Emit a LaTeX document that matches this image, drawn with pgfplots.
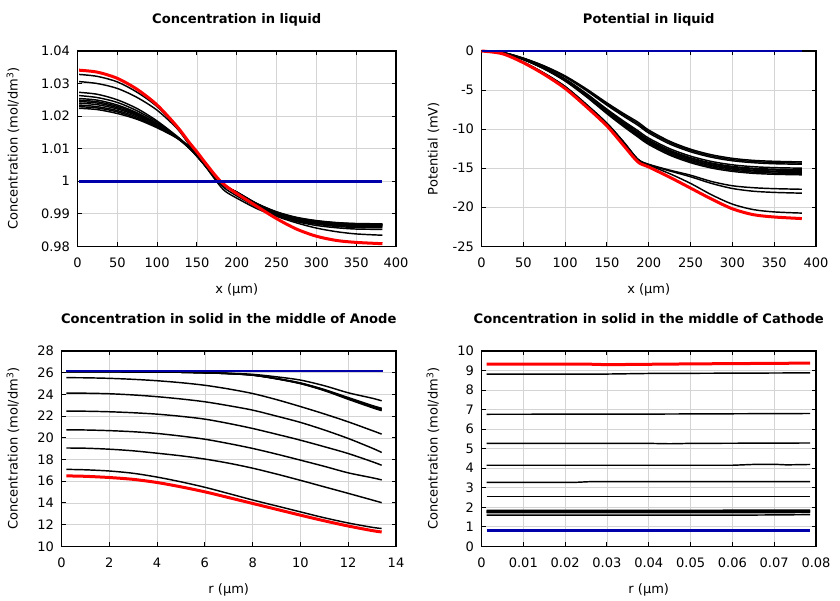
\documentclass[border=0pt]{standalone}
\usepackage{fontspec}
\setmainfont{DejaVu Sans}
\usepackage{pgfplots}
\pgfplotsset{compat=1.18}
\definecolor{navyb}{RGB}{0,0,170}
\pgfplotsset{
  bk/.style={black, line width=1.45pt, no markers, smooth},
  bks/.style={black, line width=1.45pt, no markers},
  rd/.style={red, line width=3pt, no markers, smooth},
  bl/.style={navyb, line width=2.6pt, no markers},
  common/.style={
    scale only axis, height=195.3pt, anchor=south west, clip=false,
    grid=major, major grid style={color=black!17, line width=0.6pt},
    axis line style={line width=1.2pt},
    tick style={black, line width=0.9pt}, major tick length=4pt,
    tick label style={font=\fontsize{13}{15}\selectfont},
    label style={font=\fontsize{13}{15}\selectfont},
    title style={font=\bfseries\fontsize{13.1}{15}\selectfont, at={(axis description cs:0.5,1.1106)}, anchor=base},
    xlabel style={at={(axis description cs:0.5,-0.2407)}, anchor=base},
    /pgf/number format/assume math mode=true,
    /pgf/number format/fixed, /pgf/number format/precision=2,
    scaled ticks=false,
    xticklabel style={yshift=-7.7pt},
    yticklabel style={xshift=-4pt},
  }
}
\begin{document}
\begin{tikzpicture}
\path[use as bounding box] (0,0) rectangle (840pt,600pt);

% ---------------- Concentration in liquid
\begin{axis}[common, at={(77.5pt,353.7pt)}, width=318.5pt,
  title={Concentration in liquid},
  xlabel={x (µm)}, ylabel={Concentration (mol/dm\textsuperscript{3})},
  ylabel style={at={(axis description cs:-0.188,0.5)}, anchor=base},
  xmin=0, xmax=400, ymin=0.98, ymax=1.04,
  xtick={0,50,100,150,200,250,300,350,400},
  ytick={0.98,0.99,1,1.01,1.02,1.03,1.04}]
\addplot[bk] coordinates {(2,1.0328)(25,1.0322)(50,1.0305)(75,1.0273)(100,1.0229)(125,1.0165)(140,1.0115)(150,1.0082)(160,1.0048)(175,0.9998)(185,0.9970)(200,0.9948)(225,0.9916)(250,0.9892)(275,0.9872)(300,0.9856)(325,0.9845)(350,0.9838)(383,0.9834)};
\addplot[bk] coordinates {(2,1.0306)(25,1.0300)(50,1.0285)(75,1.0257)(100,1.0218)(125,1.0162)(140,1.0113)(150,1.0082)(160,1.0050)(175,1.0003)(185,0.9978)(200,0.9955)(225,0.9921)(250,0.9895)(275,0.9876)(300,0.9864)(325,0.9857)(350,0.9853)(383,0.9852)};
\addplot[bk] coordinates {(2,1.0273)(25,1.0267)(50,1.0250)(75,1.0223)(100,1.0185)(125,1.0138)(140,1.0106)(150,1.0082)(160,1.0053)(175,1.0010)(185,0.9988)(200,0.9964)(225,0.9926)(250,0.9898)(275,0.9878)(300,0.9868)(325,0.9861)(350,0.9858)(383,0.9857)};
\addplot[bk] coordinates {(2,1.0263)(25,1.0257)(50,1.0242)(75,1.0216)(100,1.0181)(125,1.0137)(140,1.0106)(150,1.0081)(160,1.0052)(175,1.0009)(185,0.9987)(200,0.9965)(225,0.9927)(250,0.9900)(275,0.9881)(300,0.9870)(325,0.9864)(350,0.9861)(383,0.9860)};
\addplot[bk] coordinates {(2,1.0254)(25,1.0249)(50,1.0234)(75,1.0210)(100,1.0177)(125,1.0136)(140,1.0105)(150,1.0080)(160,1.0052)(175,1.0008)(185,0.9987)(200,0.9965)(225,0.9928)(250,0.9901)(275,0.9883)(300,0.9872)(325,0.9866)(350,0.9863)(383,0.9862)};
\addplot[bk] coordinates {(2,1.0249)(25,1.0244)(50,1.0230)(75,1.0207)(100,1.0175)(125,1.0135)(140,1.0104)(150,1.0079)(160,1.0051)(175,1.0008)(185,0.9986)(200,0.9966)(225,0.9929)(250,0.9902)(275,0.9884)(300,0.9874)(325,0.9868)(350,0.9865)(383,0.9864)};
\addplot[bk] coordinates {(2,1.0245)(25,1.0240)(50,1.0226)(75,1.0204)(100,1.0174)(125,1.0135)(140,1.0104)(150,1.0079)(160,1.0050)(175,1.0007)(185,0.9986)(200,0.9966)(225,0.9930)(250,0.9903)(275,0.9885)(300,0.9875)(325,0.9869)(350,0.9866)(383,0.9865)};
\addplot[bk] coordinates {(2,1.0240)(25,1.0235)(50,1.0222)(75,1.0201)(100,1.0171)(125,1.0134)(140,1.0103)(150,1.0078)(160,1.0050)(175,1.0006)(185,0.9985)(200,0.9966)(225,0.9930)(250,0.9904)(275,0.9886)(300,0.9876)(325,0.9870)(350,0.9867)(383,0.9866)};
\addplot[bk] coordinates {(2,1.0234)(25,1.0229)(50,1.0217)(75,1.0197)(100,1.0168)(125,1.0133)(140,1.0103)(150,1.0077)(160,1.0049)(175,1.0006)(185,0.9985)(200,0.9966)(225,0.9931)(250,0.9905)(275,0.9887)(300,0.9877)(325,0.9871)(350,0.9868)(383,0.9867)};
\addplot[bk] coordinates {(2,1.0229)(25,1.0225)(50,1.0213)(75,1.0193)(100,1.0167)(125,1.0133)(140,1.0102)(150,1.0077)(160,1.0048)(175,1.0005)(185,0.9984)(200,0.9966)(225,0.9931)(250,0.9905)(275,0.9888)(300,0.9878)(325,0.9872)(350,0.9869)(383,0.9868)};
\addplot[bk] coordinates {(2,1.0224)(25,1.0220)(50,1.0208)(75,1.0190)(100,1.0164)(125,1.0132)(140,1.0102)(150,1.0076)(160,1.0048)(175,1.0005)(185,0.9984)(200,0.9967)(225,0.9932)(250,0.9906)(275,0.9889)(300,0.9879)(325,0.9873)(350,0.9870)(383,0.9869)};
\addplot[rd] coordinates {(2,1.0341)(25,1.0335)(50,1.0316)(75,1.0282)(100,1.0234)(125,1.0168)(140,1.0120)(150,1.0090)(160,1.0058)(175,1.0012)(185,0.9988)(200,0.9962)(225,0.9923)(250,0.9885)(275,0.9853)(300,0.9831)(325,0.9818)(350,0.9812)(383,0.9808)};
\addplot[bl] coordinates {(2,1)(383,1)};
\end{axis}

% ---------------- Potential in liquid
\begin{axis}[common, at={(481.5pt,353.7pt)}, width=334.5pt,
  title={Potential in liquid},
  xlabel={x (µm)}, ylabel={Potential (mV)},
  ylabel style={at={(axis description cs:-0.1312,0.5)}, anchor=base},
  xmin=0, xmax=400, ymin=-25, ymax=0,
  xtick={0,50,100,150,200,250,300,350,400},
  ytick={-25,-20,-15,-10,-5,0}]
\addplot[bk] coordinates {(0,0)(25,-0.18)(50,-0.91)(75,-1.91)(100,-3.19)(125,-4.82)(150,-6.64)(170,-8.01)(187,-9.1)(200,-10.12)(225,-11.55)(250,-12.57)(275,-13.28)(300,-13.74)(325,-14.0)(350,-14.12)(383,-14.2)};
\addplot[bk] coordinates {(0,0)(25,-0.19)(50,-0.93)(75,-1.95)(100,-3.26)(125,-4.93)(150,-6.79)(170,-8.18)(187,-9.3)(200,-10.31)(225,-11.72)(250,-12.73)(275,-13.44)(300,-13.9)(325,-14.15)(350,-14.27)(383,-14.35)};
\addplot[bk] coordinates {(0,0)(25,-0.19)(50,-0.95)(75,-2.0)(100,-3.33)(125,-5.04)(150,-6.94)(170,-8.36)(187,-9.5)(200,-10.5)(225,-11.9)(250,-12.9)(275,-13.6)(300,-14.05)(325,-14.3)(350,-14.43)(383,-14.5)};
\addplot[bk] coordinates {(0,0)(25,-0.2)(50,-1.02)(75,-2.14)(100,-3.57)(125,-5.41)(150,-7.45)(170,-8.98)(187,-10.2)(200,-11.16)(225,-12.5)(250,-13.46)(275,-14.14)(300,-14.57)(325,-14.81)(350,-14.93)(383,-15.0)};
\addplot[bk] coordinates {(0,0)(25,-0.21)(50,-1.04)(75,-2.18)(100,-3.64)(125,-5.51)(150,-7.59)(170,-9.15)(187,-10.4)(200,-11.36)(225,-12.7)(250,-13.66)(275,-14.34)(300,-14.77)(325,-15.01)(350,-15.13)(383,-15.2)};
\addplot[bk] coordinates {(0,0)(25,-0.21)(50,-1.05)(75,-2.21)(100,-3.68)(125,-5.57)(150,-7.67)(170,-9.24)(187,-10.5)(200,-11.46)(225,-12.8)(250,-13.76)(275,-14.44)(300,-14.87)(325,-15.11)(350,-15.23)(383,-15.3)};
\addplot[bk] coordinates {(0,0)(25,-0.21)(50,-1.06)(75,-2.23)(100,-3.71)(125,-5.62)(150,-7.74)(170,-9.33)(187,-10.6)(200,-11.57)(225,-12.93)(250,-13.9)(275,-14.58)(300,-15.01)(325,-15.26)(350,-15.38)(383,-15.45)};
\addplot[bk] coordinates {(0,0)(25,-0.21)(50,-1.07)(75,-2.25)(100,-3.75)(125,-5.67)(150,-7.81)(170,-9.42)(187,-10.7)(200,-11.67)(225,-13.03)(250,-14.0)(275,-14.68)(300,-15.11)(325,-15.36)(350,-15.48)(383,-15.55)};
\addplot[bk] coordinates {(0,0)(25,-0.22)(50,-1.09)(75,-2.28)(100,-3.8)(125,-5.75)(150,-7.92)(170,-9.55)(187,-10.85)(200,-11.82)(225,-13.18)(250,-14.15)(275,-14.83)(300,-15.26)(325,-15.51)(350,-15.63)(383,-15.7)};
\addplot[bk] coordinates {(0,0)(25,-0.22)(50,-1.1)(75,-2.31)(100,-3.85)(125,-5.83)(150,-8.03)(170,-9.68)(187,-11.0)(200,-11.97)(225,-13.33)(250,-14.3)(275,-14.98)(300,-15.41)(325,-15.66)(350,-15.78)(383,-15.85)};
\addplot[bk] coordinates {(0,0)(25,-0.33)(50,-1.42)(75,-2.85)(100,-4.55)(125,-6.8)(150,-9.25)(170,-11.65)(187,-13.85)(200,-14.5)(225,-15.25)(250,-15.9)(275,-16.7)(300,-17.25)(325,-17.5)(350,-17.62)(383,-17.7)};
\addplot[bk] coordinates {(0,0)(25,-0.33)(50,-1.42)(75,-2.85)(100,-4.55)(125,-6.8)(150,-9.25)(170,-11.65)(187,-13.85)(200,-14.55)(225,-15.35)(250,-16.1)(275,-16.95)(300,-17.6)(325,-17.95)(350,-18.1)(383,-18.2)};
\addplot[bk] coordinates {(0,0)(25,-0.34)(50,-1.45)(75,-2.9)(100,-4.65)(125,-6.9)(150,-9.35)(170,-11.8)(187,-13.9)(200,-14.6)(225,-15.7)(250,-16.95)(275,-18.4)(300,-19.6)(325,-20.3)(350,-20.6)(383,-20.75)};
\addplot[rd] coordinates {(0,0)(25,-0.35)(50,-1.5)(75,-3.0)(100,-4.8)(125,-7.1)(150,-9.6)(170,-12.1)(187,-14.2)(200,-14.85)(225,-16.15)(250,-17.55)(275,-18.95)(300,-20.2)(325,-20.95)(350,-21.25)(383,-21.45)};
\addplot[bl] coordinates {(0,0)(383,0)};
\end{axis}

% ---------------- Anode
\begin{axis}[common, at={(61.5pt,53.7pt)}, width=334.5pt,
  title={Concentration in solid in the middle of Anode},
  xlabel={r (µm)}, ylabel={Concentration (mol/dm\textsuperscript{3})},
  ylabel style={at={(axis description cs:-0.1312,0.5)}, anchor=base},
  xmin=0, xmax=14, ymin=10, ymax=28,
  xtick={0,2,4,6,8,10,12,14},
  ytick={10,12,14,16,18,20,22,24,26,28}]
\addplot[bk] coordinates {(0.2,26.09)(1,26.09)(2,26.09)(3,26.08)(4,26.07)(5,26.05)(6,26.01)(7,25.95)(8,25.85)(9,25.62)(10,25.32)(11,24.8)(12,24.15)(13,23.65)(13.4,23.41)};
\addplot[bk] coordinates {(0.2,26.09)(1,26.09)(2,26.09)(3,26.08)(4,26.07)(5,26.04)(6,25.99)(7,25.91)(8,25.77)(9,25.43)(10,24.99)(11,24.35)(12,23.55)(13,22.78)(13.4,22.5)};
\addplot[bk] coordinates {(0.2,26.09)(1,26.09)(2,26.09)(3,26.08)(4,26.07)(5,26.04)(6,25.99)(7,25.92)(8,25.78)(9,25.44)(10,25.01)(11,24.38)(12,23.61)(13,22.85)(13.4,22.58)};
\addplot[bk] coordinates {(0.2,26.09)(1,26.09)(2,26.09)(3,26.08)(4,26.07)(5,26.04)(6,25.99)(7,25.92)(8,25.78)(9,25.46)(10,25.03)(11,24.42)(12,23.66)(13,22.92)(13.4,22.65)};
\addplot[bk] coordinates {(0.2,26.09)(1,26.09)(2,26.09)(3,26.08)(4,26.07)(5,26.04)(6,25.99)(7,25.92)(8,25.79)(9,25.47)(10,25.06)(11,24.45)(12,23.71)(13,22.98)(13.4,22.72)};
\addplot[bk] coordinates {(0.2,25.54)(1,25.53)(2,25.48)(3,25.39)(4,25.26)(5,25.08)(6,24.84)(7,24.5)(8,24.08)(9,23.52)(10,22.88)(11,22.2)(12,21.47)(13,20.67)(13.4,20.34)};
\addplot[bk] coordinates {(0.2,24.12)(1,24.11)(2,24.06)(3,23.95)(4,23.79)(5,23.58)(6,23.32)(7,22.96)(8,22.55)(9,22.0)(10,21.42)(11,20.72)(12,19.94)(13,19.05)(13.4,18.65)};
\addplot[bk] coordinates {(0.2,22.46)(1,22.45)(2,22.4)(3,22.31)(4,22.18)(5,21.98)(6,21.72)(7,21.32)(8,20.86)(9,20.33)(10,19.78)(11,19.18)(12,18.55)(13,17.8)(13.4,17.47)};
\addplot[bk] coordinates {(0.2,20.73)(1,20.72)(2,20.66)(3,20.56)(4,20.4)(5,20.16)(6,19.87)(7,19.47)(8,19.02)(9,18.5)(10,17.94)(11,17.37)(12,16.77)(13,16.32)(13.4,16.12)};
\addplot[bk] coordinates {(0.2,19.06)(1,19.04)(2,18.95)(3,18.8)(4,18.58)(5,18.34)(6,18.04)(7,17.66)(8,17.2)(9,16.66)(10,16.08)(11,15.48)(12,14.88)(13,14.27)(13.4,14.02)};
\addplot[bk] coordinates {(0.2,17.09)(1,17.05)(2,16.94)(3,16.73)(4,16.38)(5,15.94)(6,15.44)(7,14.86)(8,14.27)(9,13.72)(10,13.17)(11,12.63)(12,12.15)(13,11.75)(13.4,11.64)};
\addplot[rd] coordinates {(0.2,16.49)(1,16.45)(2,16.34)(3,16.17)(4,15.88)(5,15.48)(6,15.02)(7,14.49)(8,13.95)(9,13.41)(10,12.87)(11,12.35)(12,11.87)(13,11.45)(13.4,11.32)};
\addplot[bl] coordinates {(0.2,26.15)(13.45,26.15)};
\end{axis}

% ---------------- Cathode
\begin{axis}[common, at={(481.5pt,53.7pt)}, width=334.5pt,
  title={Concentration in solid in the middle of Cathode},
  xlabel={r (µm)}, ylabel={Concentration (mol/dm\textsuperscript{3})},
  ylabel style={at={(axis description cs:-0.1312,0.5)}, anchor=base},
  xmin=0, xmax=0.08, ymin=0, ymax=10,
  xtick={0,0.01,0.02,0.03,0.04,0.05,0.06,0.07,0.08},
  ytick={0,1,2,3,4,5,6,7,8,9,10}]
\addplot[bks] coordinates {(0.0012,8.82)(0.03,8.82)(0.04,8.85)(0.0786,8.88)};
\addplot[bks] coordinates {(0.0012,6.76)(0.04,6.77)(0.0786,6.80)};
\addplot[bks] coordinates {(0.0012,5.27)(0.04,5.27)(0.045,5.25)(0.05,5.27)(0.0786,5.29)};
\addplot[bks] coordinates {(0.0012,4.15)(0.06,4.15)(0.066,4.2)(0.07,4.2)(0.073,4.17)(0.0786,4.19)};
\addplot[bks] coordinates {(0.0012,3.27)(0.022,3.27)(0.026,3.31)(0.0786,3.31)};
\addplot[bks] coordinates {(0.0012,2.56)(0.0786,2.56)};
\addplot[bks] coordinates {(0.0012,1.84)(0.0786,1.85)};
\addplot[bks] coordinates {(0.0012,1.81)(0.0786,1.82)};
\addplot[bks] coordinates {(0.0012,1.78)(0.0786,1.79)};
\addplot[bks] coordinates {(0.0012,1.75)(0.0786,1.76)};
\addplot[bks] coordinates {(0.0012,1.72)(0.0786,1.73)};
\addplot[bks] coordinates {(0.0012,1.60)(0.065,1.60)(0.0786,1.62)};
\addplot[bks] coordinates {(0.0012,0.79)(0.0786,0.79)};
\addplot[red, line width=3pt, no markers] coordinates {(0.0012,9.33)(0.025,9.33)(0.03,9.30)(0.035,9.31)(0.05,9.34)(0.0786,9.38)};
\addplot[bl] coordinates {(0.0012,0.81)(0.0786,0.81)};
\end{axis}
\end{tikzpicture}
\end{document}
